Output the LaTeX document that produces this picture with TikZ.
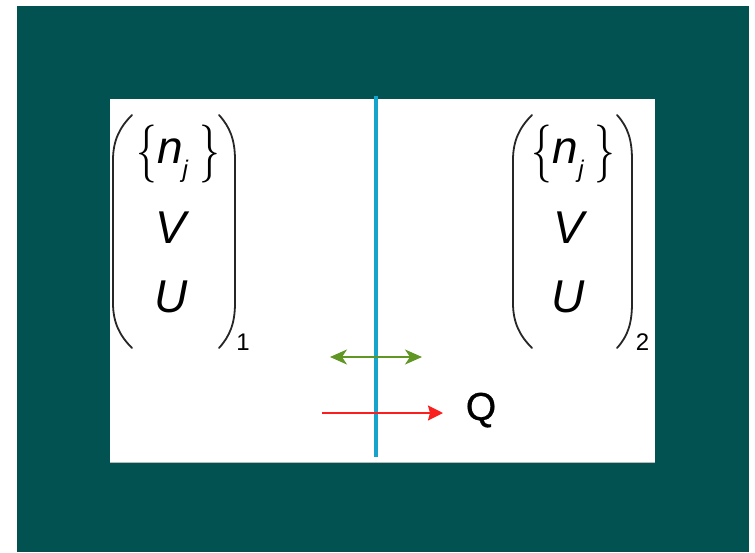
\documentclass[tikz,border=0pt]{standalone}
\usepackage{fontspec}
\usepackage{graphicx}
\setmainfont{Liberation Sans}
\newfontfamily\bracefont{Latin Modern Roman}
\newfontfamily\qfont[FakeBold=0.8]{Liberation Sans}
\usetikzlibrary{arrows.meta}
\definecolor{bgteal}{RGB}{3,82,82}
\definecolor{wallblue}{RGB}{22,163,204}
\definecolor{arrgreen}{RGB}{96,150,36}
\definecolor{arrred}{RGB}{250,30,30}
\newcommand{\nsubj}{n\raisebox{-14pt}{\fontsize{24}{28}\selectfont j}}
\newcommand{\lbrc}{\scalebox{0.9}[1.26]{\bracefont\{}}
\newcommand{\rbrc}{\scalebox{0.9}[1.26]{\bracefont\}}}
\tikzset{
  lbl/.style={inner sep=0pt, anchor=base, font=\fontsize{46}{50}\selectfont\itshape},
  idx/.style={inner sep=0pt, anchor=base, font=\fontsize{24}{28}\selectfont},
  brc/.style={inner sep=0pt, anchor=center, font=\fontsize{46}{50}\selectfont},
  qlbl/.style={inner sep=0pt, anchor=base, font=\qfont\fontsize{39}{42}\selectfont},
  paren/.style={draw=black!85, line width=1.8pt, line cap=round},
  wall/.style={draw=wallblue, line width=3.5pt},
  exch/.style={draw=arrgreen, line width=2pt, {Stealth[length=17pt,width=15pt,inset=5pt]}-{Stealth[length=17pt,width=15pt,inset=5pt]}},
  heat/.style={draw=arrred, line width=2pt, -{Stealth[length=15pt,width=15pt,inset=2pt]}}
}
\begin{document}
\begin{tikzpicture}[x=1pt,y=-1pt]
\useasboundingbox (0,0) rectangle (755,552);
\fill[white] (0,0) rectangle (755,552);
\fill[bgteal] (17,6) rectangle (749,552);
\fill[white] (110,99) rectangle (655,462);
\draw[gray!55, line width=1pt] (110,462.5) -- (655,462.5);

% left system
\draw[paren] (132,115) .. controls (120,127) and (113,140) .. (113,160) -- (113,303) .. controls (113,323) and (120,336) .. (132,348);
\draw[paren] (219,115) .. controls (230,127) and (235,140) .. (235,160) -- (235,303) .. controls (235,323) and (230,336) .. (219,348);
\node[brc] (lbA) at (146.5,154) {\lbrc};
\node[lbl] (nA) at (172.6,163) {\nsubj};
\node[brc] (rbA) at (210,154) {\rbrc};
\node[lbl] (VA) at (170.5,243) {V};
\node[lbl] (UA) at (171,312) {U};
\node[idx] (oneA) at (243,350) {1};

% right system
\draw[paren] (532,115) .. controls (520,127) and (513,140) .. (513,160) -- (513,303) .. controls (513,323) and (520,336) .. (532,348);
\draw[paren] (617,115) .. controls (628,127) and (632,140) .. (632,160) -- (632,303) .. controls (632,323) and (628,336) .. (617,348);
\node[brc] (lbB) at (541.5,154) {\lbrc};
\node[lbl] (nB) at (568.2,163) {\nsubj};
\node[brc] (rbB) at (605,154) {\rbrc};
\node[lbl] (VB) at (568.5,243) {V};
\node[lbl] (UB) at (568,312) {U};
\node[idx] (twoB) at (642.5,350) {2};

% wall
\coordinate (wtop) at (376,96);
\coordinate (wbot) at (376,457);
\draw[wall] (wtop) -- (wbot);

% exchange arrows
\coordinate (gL) at (330,357);
\coordinate (gR) at (422,357);
\draw[exch] (gL) -- (gR);
\coordinate (rL) at (322,413);
\node[qlbl] (Q) at (481,420) {Q};
\coordinate (rR) at (443,413);
\draw[heat] (rL) -- (rR);
\end{tikzpicture}
\end{document}
